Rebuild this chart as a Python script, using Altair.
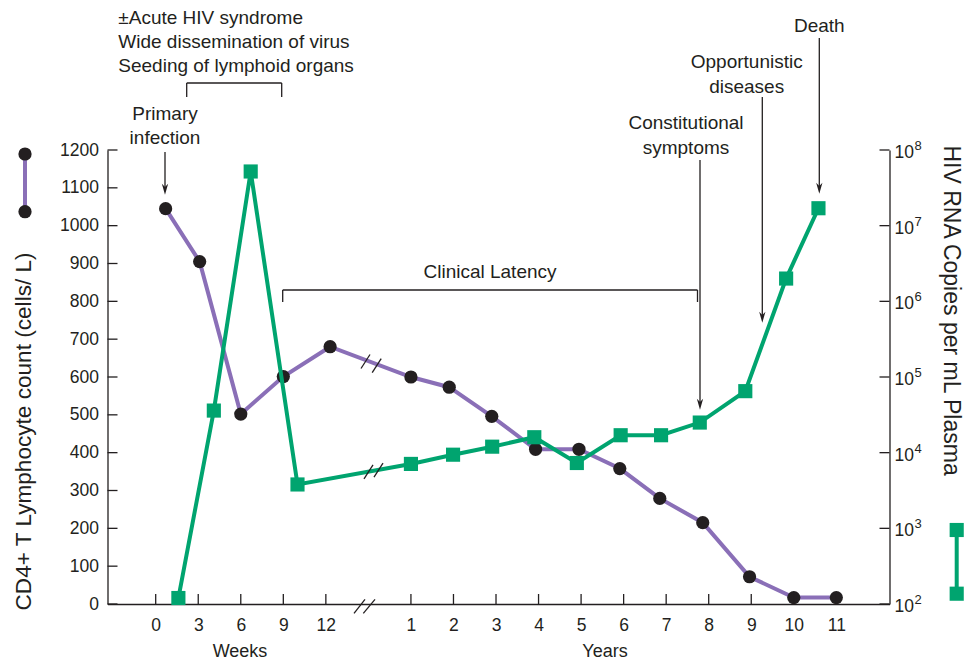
import altair as alt
import pandas as pd

# ---------------- data ----------------
cd4_weeks = [0.7, 3.1, 6.0, 9.0, 12.3]
cd4_week_counts = [1045, 905, 502, 601, 680]
cd4_years = [1.0, 1.9, 2.9, 3.93, 4.95, 5.91, 6.85, 7.86, 8.96, 10.0, 11.0]
cd4_year_counts = [600, 573, 496, 409, 409, 358, 279, 215, 72, 17, 17]

rna_weeks = [1.6, 4.1, 6.7, 10.0]
rna_week_copies = [1.2e2, 3.6e4, 5.2e7, 3.8e3]
rna_years = [1.0, 1.99, 2.91, 3.9, 4.9, 5.93, 6.88, 7.79, 8.86, 9.82, 10.58]
rna_year_copies = [7.1e3, 9.4e3, 1.2e4, 1.6e4, 7.3e3, 1.7e4, 1.7e4, 2.5e4, 6.5e4, 2.0e6, 1.7e7]

week_ticks = [0, 3, 6, 9, 12]
year_ticks = list(range(1, 12))
cd4_ticks = list(range(0, 1201, 100))
rna_exponents = [2, 3, 4, 5, 6, 7, 8]

# ---------------- layout constants ----------------
W, H = 782, 454
WEEKS_PER_UNIT = 3.0
YEAR_SHIFT = 5.0
XMIN, XMAX = -1.133, 17.25
FONT = "Liberation Sans"
INK = "#231f20"
PURPLE = "#8a6fb7"
GREEN = "#00a46f"


def wpos(w):
    return w / WEEKS_PER_UNIT


def ypos(y):
    return y + YEAR_SHIFT


cd4_df = pd.DataFrame({
    "pos": [wpos(w) for w in cd4_weeks] + [ypos(y) for y in cd4_years],
    "cd4": cd4_week_counts + cd4_year_counts,
})
rna_df = pd.DataFrame({
    "pos": [wpos(w) for w in rna_weeks] + [ypos(y) for y in rna_years],
    "rna": rna_week_copies + rna_year_copies,
})
xtick_df = pd.DataFrame({"pos": [wpos(w) for w in week_ticks] + [ypos(y) for y in year_ticks]})
ytick_df = pd.DataFrame({"cd4": cd4_ticks})
rtick_df = pd.DataFrame({"rna": [10.0 ** e for e in rna_exponents],
                         "exp": [str(e) for e in rna_exponents]})

xscale = alt.Scale(domain=[XMIN, XMAX], nice=False, zero=False)
cd4_scale = alt.Scale(domain=[0, 1200], nice=False, zero=False)
rna_scale = alt.Scale(type="log", domain=[1e2, 1e8], nice=False)

x_axis = alt.Axis(
    values=xtick_df["pos"].tolist(),
    labelExpr="datum.value <= 4.5 ? format(datum.value * 3, 'd') : format(datum.value - 5, 'd')",
    ticks=False, grid=False, title=None, domainColor=INK, domainWidth=1.3, labelOverlap=False,
    labelFont=FONT, labelFontSize=17.5, labelColor=INK, labelPadding=12,
)
left_axis = alt.Axis(
    values=cd4_ticks, format="d", labelOverlap=False, ticks=False, grid=False,
    domainColor=INK, domainWidth=1.3,
    labelFont=FONT, labelFontSize=17.5, labelColor=INK, labelPadding=9,
    title="CD4+ T Lymphocyte count (cells/  L)", titleFont=FONT, titleFontSize=22.6,
    titleFontWeight="normal", titleColor=INK, titleAngle=270, titleX=-84, titleY=460,
    titleAlign="left", titleBaseline="middle",
)
right_axis = alt.Axis(
    orient="right", labels=False, ticks=False, grid=False, domainColor=INK, domainWidth=1.3,
    title="HIV RNA Copies per mL Plasma", titleFont=FONT, titleFontSize=23,
    titleFontWeight="normal", titleColor=INK, titleAngle=90, titleX=61, titleY=-5,
    titleAlign="left", titleBaseline="middle",
)

XN = alt.X("pos:Q", scale=xscale, axis=x_axis)
YC = alt.Y("cd4:Q", scale=cd4_scale, axis=left_axis)
YR = alt.Y("rna:Q", scale=rna_scale, axis=right_axis)

# ---------------- CD4 group ----------------
cd4_base = alt.Chart(cd4_df)
cd4_line = cd4_base.mark_line(color=PURPLE, strokeWidth=4).encode(x=XN, y=YC)
cd4_pts = cd4_base.mark_circle(color=INK, size=175, opacity=1).encode(x=XN, y=YC)
ytick = alt.Chart(ytick_df).mark_rule(color=INK, strokeWidth=1.3).encode(
    y=YC, x=alt.value(0), x2=alt.value(10)
)
xtick = alt.Chart(xtick_df).mark_rule(color=INK, strokeWidth=1.3).encode(
    x=XN, y=alt.value(H), y2=alt.value(H - 10)
)
cd4_group = alt.layer(cd4_line, cd4_pts, ytick, xtick)

# ---------------- RNA group ----------------
rna_base = alt.Chart(rna_df)
rna_line = rna_base.mark_line(color=GREEN, strokeWidth=4).encode(x=XN, y=YR)
rna_pts = rna_base.mark_square(color=GREEN, size=200, opacity=1).encode(x=XN, y=YR)
rtick = alt.Chart(rtick_df).mark_rule(color=INK, strokeWidth=1.3).encode(
    y=YR, x=alt.value(W - 10), x2=alt.value(W)
)
rlab10 = alt.Chart(rtick_df).mark_text(
    text="10", font=FONT, fontSize=17.5, color=INK, align="left", baseline="middle", dx=5, dy=3
).encode(y=YR, x=alt.value(W))
rlabexp = alt.Chart(rtick_df).mark_text(
    font=FONT, fontSize=13, color=INK, align="left", baseline="middle", dx=25, dy=-4
).encode(y=YR, x=alt.value(W), text="exp:N")
rna_group = alt.layer(rna_line, rna_pts, rtick, rlab10, rlabexp)

# ---------------- annotations (pixel positions relative to plot origin) ----------------


def px(field):
    return alt.X(field + ":Q", scale=None, axis=None)


def py(field):
    return alt.Y(field + ":Q", scale=None, axis=None)


left_texts = pd.DataFrame({
    "t": ["±Acute HIV syndrome", "Wide dissemination of virus", "Seeding of lymphoid organs"],
    "x": [10.8, 10.8, 10.8], "y": [-132.5, -108.5, -84],
})
center_texts = pd.DataFrame({
    "t": ["Primary", "infection", "Clinical Latency", "Constitutional", "symptoms",
          "Opportunistic", "diseases", "Death"],
    "x": [57.5, 57.5, 382.5, 578.5, 578.5, 639.2, 639.2, 711.8],
    "y": [-36, -12, 122, -27.3, -2.3, -88, -63, -124],
})
unit_texts = pd.DataFrame({"t": ["Weeks", "Years"], "x": [132.5, 497.5], "y": [502, 502]})

segs = pd.DataFrame({
    "x": [79.2, 79.2, 174.2, 175.2, 175.2, 590, 57.5, 592.5, 654.8, 711.8],
    "y": [-67, -67, -67, 140, 140, 140, 2, 10, -53, -112],
    "x2": [174.2, 79.2, 174.2, 590, 175.2, 590, 57.5, 592.5, 654.8, 711.8],
    "y2": [-67, -53, -53, 140, 152, 152, 40, 255, 168, 39],
})
heads = pd.DataFrame({"x": [57.5, 592.5, 654.8, 711.8], "y": [39, 254, 167, 38]})

slashes = pd.DataFrame({
    "x": [246.5, 255.8, 253.5, 264.7, 256.5, 266.5],
    "y": [463.3, 463.3, 218.5, 222.6, 328.9, 327.1],
    "x2": [257.5, 267.5, 262.5, 273.7, 265.5, 275.5],
    "y2": [449.3, 449.3, 204.5, 208.6, 314.9, 313.1],
})

swatch_lines = pd.DataFrame({"x": [-82.5, 849.2], "y": [4, 380], "x2": [-82.5, 849.2], "y2": [61.7, 443.7],
                             "c": ["cd4", "rna"]})
swatch_circ = pd.DataFrame({"x": [-82.5, -82.5], "y": [4, 61.7]})
swatch_sq = pd.DataFrame({"x": [849.2, 849.2], "y": [380, 443.7]})

t_left = alt.Chart(left_texts).mark_text(font=FONT, fontSize=19, color=INK, align="left",
                                         baseline="middle").encode(x=px("x"), y=py("y"), text="t:N")
t_center = alt.Chart(center_texts).mark_text(font=FONT, fontSize=19, color=INK, align="center",
                                             baseline="middle").encode(x=px("x"), y=py("y"), text="t:N")
t_units = alt.Chart(unit_texts).mark_text(font=FONT, fontSize=18, color=INK, align="center",
                                          baseline="middle").encode(x=px("x"), y=py("y"), text="t:N")
seg_layer = alt.Chart(segs).mark_rule(color=INK, strokeWidth=1.3).encode(
    x=px("x"), y=py("y"), x2="x2:Q", y2="y2:Q")
head_layer = alt.Chart(heads).mark_point(
    shape="M0,1 L-0.55,-0.9 L0,-0.35 L0.55,-0.9 Z", size=130, filled=True, color=INK, opacity=1
).encode(x=px("x"), y=py("y"))
slash_layer = alt.Chart(slashes).mark_rule(color=INK, strokeWidth=1.3).encode(
    x=px("x"), y=py("y"), x2="x2:Q", y2="y2:Q")
sw_line = alt.Chart(swatch_lines).mark_rule(strokeWidth=4).encode(
    x=px("x"), y=py("y"), x2="x2:Q", y2="y2:Q",
    color=alt.Color("c:N", scale=alt.Scale(domain=["cd4", "rna"], range=[PURPLE, GREEN]), legend=None))
sw_circ = alt.Chart(swatch_circ).mark_circle(color=INK, size=175, opacity=1).encode(x=px("x"), y=py("y"))
sw_sq = alt.Chart(swatch_sq).mark_square(color=GREEN, size=200, opacity=1).encode(x=px("x"), y=py("y"))

chart = alt.layer(
    cd4_group, rna_group,
    seg_layer, head_layer, slash_layer, t_left, t_center, t_units, sw_line, sw_circ, sw_sq,
).resolve_scale(y="independent").properties(
    width=W, height=H,
    autosize=alt.AutoSizeParams(type="none"),
    padding={"left": 99.5, "top": 142, "right": 74.5, "bottom": 57},
).configure(background="white", view=alt.ViewConfig(stroke=None))

chart.save("out.html", embed_options={"renderer": "svg", "actions": False})
